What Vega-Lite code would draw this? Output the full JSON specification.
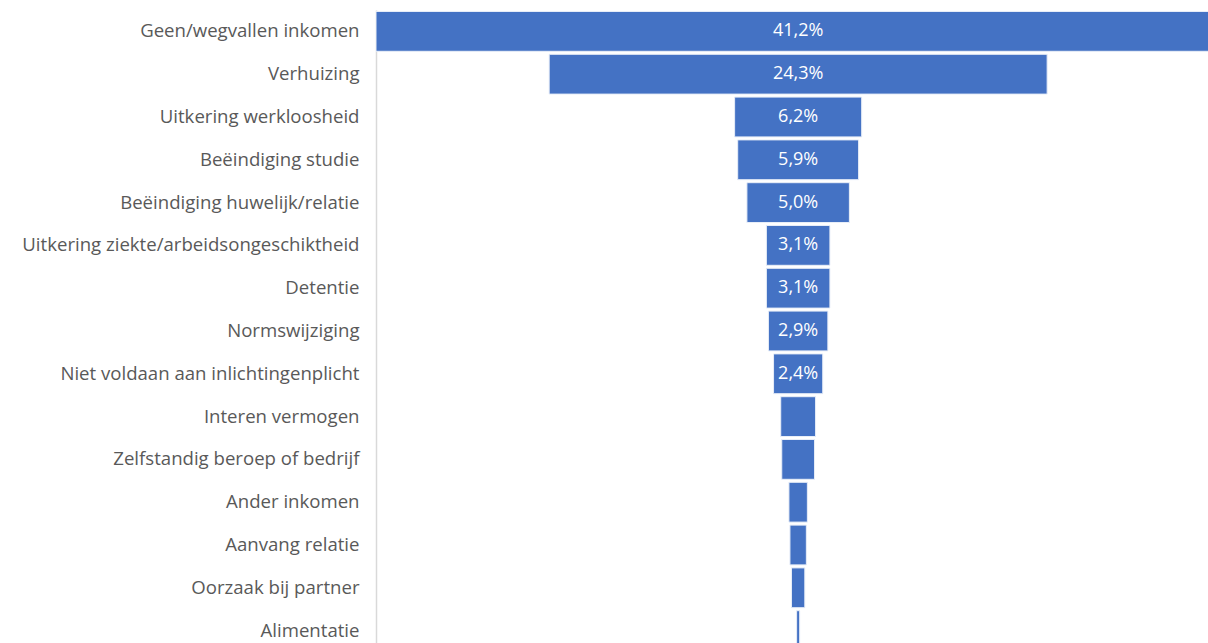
{
  "$schema": "https://vega.github.io/schema/vega-lite/v6.json",
  "autosize": "none",
  "width": 832,
  "height": 633,
  "padding": {"left": 376, "top": 10, "right": 0, "bottom": 0},
  "background": "white",
  "data": {
    "values": [
      {"reden": "Geen/wegvallen inkomen", "pct": 41.2, "label": "41,2%"},
      {"reden": "Verhuizing", "pct": 24.3, "label": "24,3%"},
      {"reden": "Uitkering werkloosheid", "pct": 6.2, "label": "6,2%"},
      {"reden": "Beëindiging studie", "pct": 5.9, "label": "5,9%"},
      {"reden": "Beëindiging huwelijk/relatie", "pct": 5.0, "label": "5,0%"},
      {"reden": "Uitkering ziekte/arbeidsongeschiktheid", "pct": 3.1, "label": "3,1%"},
      {"reden": "Detentie", "pct": 3.1, "label": "3,1%"},
      {"reden": "Normswijziging", "pct": 2.9, "label": "2,9%"},
      {"reden": "Niet voldaan aan inlichtingenplicht", "pct": 2.4, "label": "2,4%"},
      {"reden": "Interen vermogen", "pct": 1.7, "label": ""},
      {"reden": "Zelfstandig beroep of bedrijf", "pct": 1.6, "label": ""},
      {"reden": "Ander inkomen", "pct": 0.9, "label": ""},
      {"reden": "Aanvang relatie", "pct": 0.8, "label": ""},
      {"reden": "Oorzaak bij partner", "pct": 0.65, "label": ""},
      {"reden": "Alimentatie", "pct": 0.15, "label": ""}
    ]
  },
  "transform": [
    {"calculate": "-datum.pct / 2", "as": "lo"},
    {"calculate": "datum.pct / 2", "as": "hi"}
  ],
  "encoding": {
    "y": {
      "field": "reden",
      "type": "nominal",
      "sort": null,
      "title": null,
      "scale": {"range": [0, 642], "paddingInner": 0.07, "paddingOuter": 0.035},
      "axis": {
        "ticks": false,
        "domainColor": "#d9d9d9",
        "domainWidth": 1.5,
        "labelFont": "Open Sans",
        "labelFontSize": 18.6,
        "labelColor": "#595959",
        "labelPadding": 17,
        "labelLimit": 400
      }
    }
  },
  "layer": [
    {
      "mark": {"type": "bar", "color": "#4472C4", "stroke": "#e8eef8", "strokeWidth": 1, "clip": true},
      "encoding": {
        "x": {
          "field": "lo",
          "type": "quantitative",
          "scale": {"domain": [-20.6, 20.0], "nice": false, "zero": false},
          "axis": null
        },
        "x2": {"field": "hi"}
      }
    },
    {
      "mark": {"type": "text", "color": "white", "font": "Open Sans", "fontSize": 18, "align": "center", "baseline": "middle"},
      "encoding": {
        "x": {"datum": 0, "type": "quantitative", "scale": {"domain": [-20.6, 20.0], "nice": false, "zero": false}},
        "text": {"field": "label"}
      }
    }
  ],
  "config": {"view": {"stroke": null}}
}
